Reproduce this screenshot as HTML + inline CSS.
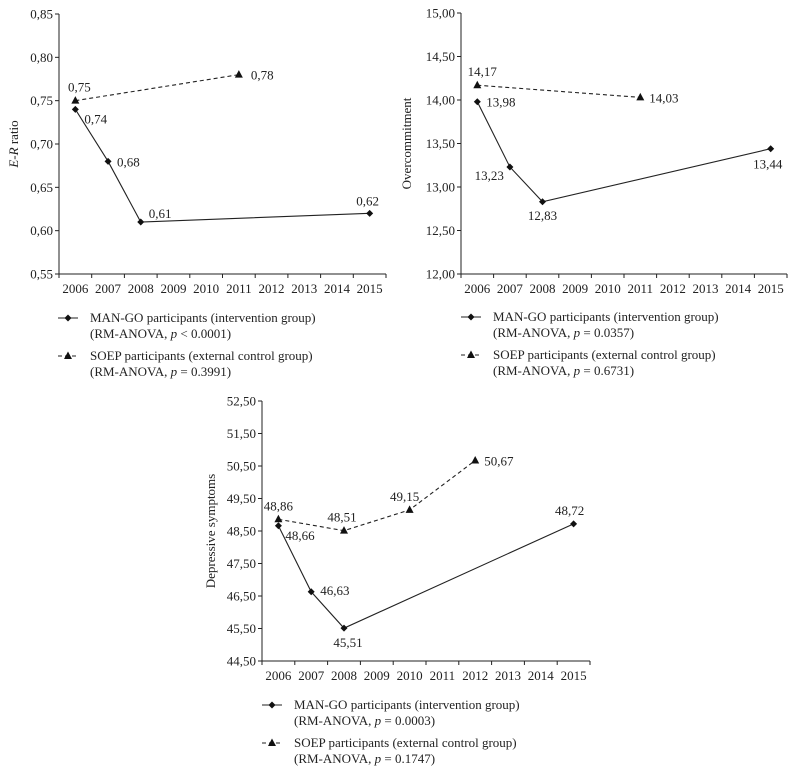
<!DOCTYPE html>
<html><head><meta charset="utf-8">
<style>
body{margin:0;background:#fff;}
svg{display:block;font-family:"Liberation Serif",serif;}
text{fill:#222;font-size:13px;}
</style></head>
<body>
<svg id="root" width="797" height="769" viewBox="0 0 797 769"></svg>
<script>
const years = ["2006","2007","2008","2009","2010","2011","2012","2013","2014","2015"];
const yearsC = ["2006","2007","2008","2009","2010","2011","2012","2013","2014","2015"];
yearsC[4]="2010";yearsC[5]="2011";
const yearsC3 = ["2006","2007","2008","2009","2010","2011","2012","2013","2014","2015"];

const erTicks = ["0,55","0,60","0,65","0,70","0,75","0,80","0,85"];
const erManX = ["2006","2007","2008","2015"];
const erManY = [0.74,0.68,0.61,0.62];
const erSoepX = ["2006","2011"];
const erSoepY = [0.75,0.78];

const ocTicks = ["12,00","12,50","13,00","13,50","14,00","14,50","15,00"];
const ocManX = ["2006","2007","2008","2015"];
const ocManY = [13.98,13.23,12.83,13.44];
const ocSoepX = ["2006","2011"];
const ocSoepY = [14.17,14.03];

const depCats = ["2006","2007","2008","2009","2010","2011","2012","2013","2014","2015"];
const depTicks = ["44,50","45,50","46,50","47,50","48,50","49,50","50,50","51,50","52,50"];
const depManX = ["2006","2007","2008","2015"];
const depManY = [48.66,46.63,45.51,48.72];
const depSoepX = ["2006","2008","2010","2012"];
const depSoepY = [48.86,48.51,49.15,50.67];

const NS="http://www.w3.org/2000/svg";
const root=document.getElementById('root');
function el(tag,attrs,parent){const e=document.createElementNS(NS,tag);for(const k in attrs)e.setAttribute(k,attrs[k]);(parent||root).appendChild(e);return e;}
function fmt(v){return v.toFixed(2).replace('.',',');}

function chart(cfg){
  const g=el('g',{});
  
  
  const x0=cfg.x0,x1=cfg.x1,yTop=cfg.yTop,yBot=cfg.yBot;
  const tv=cfg.ticks.map(t=>parseFloat(t.replace(',','.')));
  const ymin=tv[0],ymax=tv[tv.length-1];
  const Y=v=>yBot-(v-ymin)/(ymax-ymin)*(yBot-yTop);
  const n=cfg.cats.length,step=(x1-x0)/n;
  const X=c=>x0+(cfg.cats.indexOf(c)+0.5)*step;
  // axes
  const ya=el('line',{x1:x0,y1:yTop,x2:x0,y2:yBot,stroke:'#222','stroke-width':1},g);
  
  const xa=el('line',{x1:x0,y1:yBot,x2:x1,y2:yBot,stroke:'#222','stroke-width':1},g);
  
  cfg.ticks.forEach((t,i)=>{
    const y=Y(tv[i]);
    el('line',{x1:x0-4,y1:y,x2:x0,y2:y,stroke:'#222'},g);
    const tx=el('text',{x:x0-6,y:y+4.5,'text-anchor':'end'},g);tx.textContent=t;
    
  });
  for(let i=0;i<=n;i++){el('line',{x1:x0+i*step,y1:yBot,x2:x0+i*step,y2:yBot+4,stroke:'#222'},g);}
  cfg.cats.forEach(c=>{
    const tx=el('text',{x:X(c),y:yBot+19,'text-anchor':'middle'},g);tx.textContent=c;
    
  });
  const yt=el('text',{x:0,y:0,'text-anchor':'middle',transform:`translate(${cfg.titleX},${(yTop+yBot)/2}) rotate(-90)`},g);
  yt.innerHTML=cfg.title;
  
  function series(xs,ys,dash,marker,offs,name){
    const pts=xs.map((c,i)=>[X(c),Y(ys[i])]);
    const pl=el('polyline',{points:pts.map(p=>p.join(',')).join(' '),fill:'none',stroke:'#222','stroke-width':1.1,'stroke-dasharray':dash},g);
    
    pts.forEach((p,i)=>{
      let m;
      if(marker==='d') m=el('polygon',{points:`${p[0]},${p[1]-3.5} ${p[0]+3.5},${p[1]} ${p[0]},${p[1]+3.5} ${p[0]-3.5},${p[1]}`,fill:'#111'},g);
      else m=el('polygon',{points:`${p[0]},${p[1]-4.5} ${p[0]+4},${p[1]+3} ${p[0]-4},${p[1]+3}`,fill:'#111'},g);
      
      const o=offs[i];
      const tx=el('text',{x:p[0]+o[0],y:p[1]+o[1],'text-anchor':o[2]},g);tx.textContent=fmt(ys[i]);
      
    });
  }
  series(cfg.manX,cfg.manY,'none','d',cfg.manOff,'man-go');
  series(cfg.soepX,cfg.soepY,'4,3','t',cfg.soepOff,'soep');
  // legend
  const lx=cfg.legX,ly=cfg.legY;
  const l1=el('g',{},g);
  el('line',{x1:lx,y1:ly-4,x2:lx+20,y2:ly-4,stroke:'#222'},l1);
  el('polygon',{points:`${lx+10},${ly-7.5} ${lx+13.5},${ly-4} ${lx+10},${ly-0.5} ${lx+6.5},${ly-4}`,fill:'#111'},l1);
  let t=el('text',{x:lx+32,y:ly},l1);t.textContent='MAN-GO participants (intervention group)';
  t=el('text',{x:lx+32,y:ly+16},l1);t.innerHTML='(RM-ANOVA, <tspan font-style="italic">p</tspan> '+cfg.p1+')';
  const l2=el('g',{},g);
  el('line',{x1:lx,y1:ly+34,x2:lx+20,y2:ly+34,stroke:'#222','stroke-dasharray':'4,3'},l2);
  el('polygon',{points:`${lx+10},${ly+29.5} ${lx+14},${ly+37} ${lx+6},${ly+37}`,fill:'#111'},l2);
  t=el('text',{x:lx+32,y:ly+38},l2);t.textContent='SOEP participants (external control group)';
  t=el('text',{x:lx+32,y:ly+54},l2);t.innerHTML='(RM-ANOVA, <tspan font-style="italic">p</tspan> '+cfg.p2+')';
}

chart({name:'er-ratio-chart',x0:59,x1:386,yTop:14,yBot:274,cats:years,ticks:erTicks,titleX:18,
  title:'<tspan font-style="italic">E</tspan>-<tspan font-style="italic">R</tspan> ratio',
  manX:erManX,manY:erManY,soepX:erSoepX,soepY:erSoepY,
  manOff:[[9,14,'start'],[9,5,'start'],[8,-4,'start'],[-2,-8,'middle']],
  soepOff:[[4,-9,'middle'],[12,5,'start']],
  legX:58,legY:322,p1:'&lt; 0.0001',p2:'= 0.3991'});

chart({name:'overcommitment-chart',x0:461,x1:787,yTop:13,yBot:274,cats:yearsC,ticks:ocTicks,titleX:411,
  title:'Overcommitment',
  manX:ocManX,manY:ocManY,soepX:ocSoepX,soepY:ocSoepY,
  manOff:[[9,5,'start'],[-6,13,'end'],[0,18,'middle'],[-3,20,'middle']],
  soepOff:[[5,-9,'middle'],[9,5,'start']],
  legX:461,legY:321,p1:'= 0.0357',p2:'= 0.6731'});

chart({name:'depressive-symptoms-chart',x0:262,x1:590,yTop:401,yBot:661,cats:depCats,ticks:depTicks,titleX:215,
  title:'Depressive symptoms',
  manX:depManX,manY:depManY,soepX:depSoepX,soepY:depSoepY,
  manOff:[[7,14,'start'],[9,3,'start'],[4,19,'middle'],[-4,-9,'middle']],
  soepOff:[[0,-9,'middle'],[-2,-9,'middle'],[-5,-9,'middle'],[9,5,'start']],
  legX:262,legY:709,p1:'= 0.0003',p2:'= 0.1747'});
</script>
</body></html>
